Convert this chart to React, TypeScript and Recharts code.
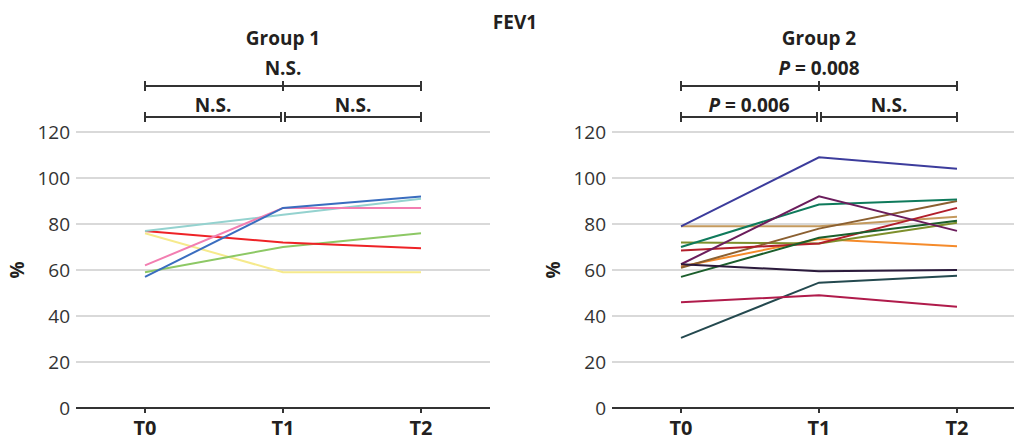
import { CartesianGrid, Line, LineChart, ReferenceLine, XAxis, YAxis } from "recharts";

const timepoints = ["T0", "T1", "T2"];
const yTicks = [0, 20, 40, 60, 80, 100, 120];

// Group 1 subjects (FEV1 %)
const g1Blue = [57, 87, 92];
const g1Teal = [77, 84, 91];
const g1Pink = [62, 87, 87];
const g1Red = [77, 72, 69.5];
const g1Green = [59, 70, 76];
const g1Yellow = [76, 59, 59];

// Group 2 subjects (FEV1 %)
const g2Indigo = [79, 109, 104];
const g2Teal = [70, 88.5, 90.7];
const g2Purple = [62.5, 92, 77];
const g2Tan = [79, 79, 83.2];
const g2Brown = [61, 78, 90];
const g2Red = [68.5, 71.5, 87];
const g2Olive = [72, 71.5, 80.5];
const g2DarkGreen = [57, 74, 81.4];
const g2Orange = [61.5, 73.5, 70.3];
const g2Navy = [62.5, 59.5, 60];
const g2Slate = [30.5, 54.5, 57.5];
const g2Crimson = [46, 49, 44];

const g1Tests = ["N.S.", "N.S.", "N.S."];
const g2Tests = ["P = 0.008", "P = 0.006", "N.S."];

type Series = { key: string; color: string; values: number[] };

const group1: Series[] = [
  { key: "yellow", color: "#f6ea8c", values: g1Yellow },
  { key: "green", color: "#8dc865", values: g1Green },
  { key: "red", color: "#ee2226", values: g1Red },
  { key: "teal", color: "#94d2cf", values: g1Teal },
  { key: "pink", color: "#f27eb1", values: g1Pink },
  { key: "blue", color: "#3a6dbf", values: g1Blue },
];

const group2: Series[] = [
  { key: "tan", color: "#c49a5e", values: g2Tan },
  { key: "orange", color: "#f58b2b", values: g2Orange },
  { key: "olive", color: "#7e8f2c", values: g2Olive },
  { key: "brown", color: "#8b6031", values: g2Brown },
  { key: "red", color: "#b21f2b", values: g2Red },
  { key: "darkgreen", color: "#1b5e2c", values: g2DarkGreen },
  { key: "teal", color: "#0f7a5b", values: g2Teal },
  { key: "purple", color: "#6b1d5c", values: g2Purple },
  { key: "navy", color: "#2b1a3c", values: g2Navy },
  { key: "slate", color: "#24494f", values: g2Slate },
  { key: "crimson", color: "#b01b4b", values: g2Crimson },
  { key: "indigo", color: "#3c3c9c", values: g2Indigo },
];

function toRows(series: Series[]) {
  return timepoints.map((t, i) => {
    const row: Record<string, string | number> = { time: t };
    series.forEach((s) => (row[s.key] = s.values[i]));
    return row;
  });
}

const INK = "#231f20";

function renderLabel(label: string) {
  if (label.startsWith("P ")) {
    return (
      <>
        <tspan fontStyle="italic">P</tspan>
        <tspan>{label.slice(1)}</tspan>
      </>
    );
  }
  return label;
}

function bracketShape(label: string, opts: { trimStart?: number; trimEnd?: number; midTick?: boolean; gap: number }) {
  return (p: any) => {
    const a = p.x1 + (opts.trimStart ?? 0);
    const b = p.x2 - (opts.trimEnd ?? 0);
    const y = p.y1;
    const m = (p.x1 + p.x2) / 2;
    return (
      <g>
        <line x1={a} y1={y} x2={b} y2={y} stroke="#333" strokeWidth={2} />
        <line x1={a} y1={y - 5} x2={a} y2={y + 5} stroke="#333" strokeWidth={2} />
        <line x1={b} y1={y - 5} x2={b} y2={y + 5} stroke="#333" strokeWidth={2} />
        {opts.midTick && <line x1={m} y1={y - 5} x2={m} y2={y + 5} stroke="#333" strokeWidth={2} />}
        <text x={(a + b) / 2} y={y - opts.gap} textAnchor="middle" fontSize={19} fontWeight={700} fill={INK}>
          {renderLabel(label)}
        </text>
      </g>
    );
  };
}

function Panel({ series, tests, left }: { series: Series[]; tests: string[]; left: number }) {
  return (
    <div style={{ position: "absolute", left, top: 0 }}>
      <LineChart width={500} height={440} data={toRows(series)} margin={{ top: 132, right: 10, bottom: 0, left: 0 }}>
        <CartesianGrid vertical={false} stroke="#d9d9d9" strokeWidth={2} />
        <XAxis
          dataKey="time"
          height={32}
          padding={{ left: 69, right: 69 }}
          tickSize={5}
          tickMargin={8}
          axisLine={{ stroke: "#333", strokeWidth: 2 }}
          tickLine={{ stroke: "#333", strokeWidth: 2 }}
          tick={{ fill: INK, fontSize: 20, fontWeight: 700 }}
        />
        <YAxis
          domain={[0, 120]}
          ticks={yTicks}
          width={76}
          tickSize={4}
          tickMargin={2}
          axisLine={false}
          tickLine={false}
          tick={{ fill: "#333", fontSize: 19 }}
          label={{
            content: (p: any) => {
              const vb = p.viewBox;
              const x = vb.x + 17;
              const y = vb.y + vb.height / 2;
              return (
                <text x={x} y={y} dy="0.35em" textAnchor="middle" fontSize={19} fontWeight={700} fill={INK} transform={`rotate(-90 ${x} ${y})`}>
                  %
                </text>
              );
            },
          }}
        />
        <ReferenceLine
          segment={[{ x: "T0", y: 140 }, { x: "T2", y: 140 }]}
          ifOverflow="visible"
          shape={bracketShape(tests[0], { midTick: true, gap: 11 })}
        />
        <ReferenceLine
          segment={[{ x: "T0", y: 126.5 }, { x: "T1", y: 126.5 }]}
          ifOverflow="visible"
          shape={bracketShape(tests[1], { trimEnd: 2, gap: 5 })}
        />
        <ReferenceLine
          segment={[{ x: "T1", y: 126.5 }, { x: "T2", y: 126.5 }]}
          ifOverflow="visible"
          shape={bracketShape(tests[2], { trimStart: 2, gap: 5 })}
        />
        {series.map((s) => (
          <Line key={s.key} dataKey={s.key} stroke={s.color} strokeWidth={2} dot={false} activeDot={false} isAnimationActive={false} />
        ))}
      </LineChart>
    </div>
  );
}

export default function App() {
  return (
    <div
      style={{
        position: "absolute",
        left: 0,
        top: 0,
        width: 1014,
        height: 440,
        overflow: "hidden",
        background: "#fff",
        fontFamily: "'Open Sans', sans-serif",
      }}
    >
      <Panel series={group1} tests={g1Tests} left={0} />
      <Panel series={group2} tests={g2Tests} left={536} />
      <svg width={1014} height={440} style={{ position: "absolute", left: 0, top: 0, pointerEvents: "none" }}>
        <text x={515} y={29} textAnchor="middle" fontSize={19} fontWeight={700} fill={INK}>
          FEV1
        </text>
        <text x={283} y={45} textAnchor="middle" fontSize={19} fontWeight={700} fill={INK}>
          Group 1
        </text>
        <text x={819} y={45} textAnchor="middle" fontSize={19} fontWeight={700} fill={INK}>
          Group 2
        </text>
      </svg>
    </div>
  );
}
